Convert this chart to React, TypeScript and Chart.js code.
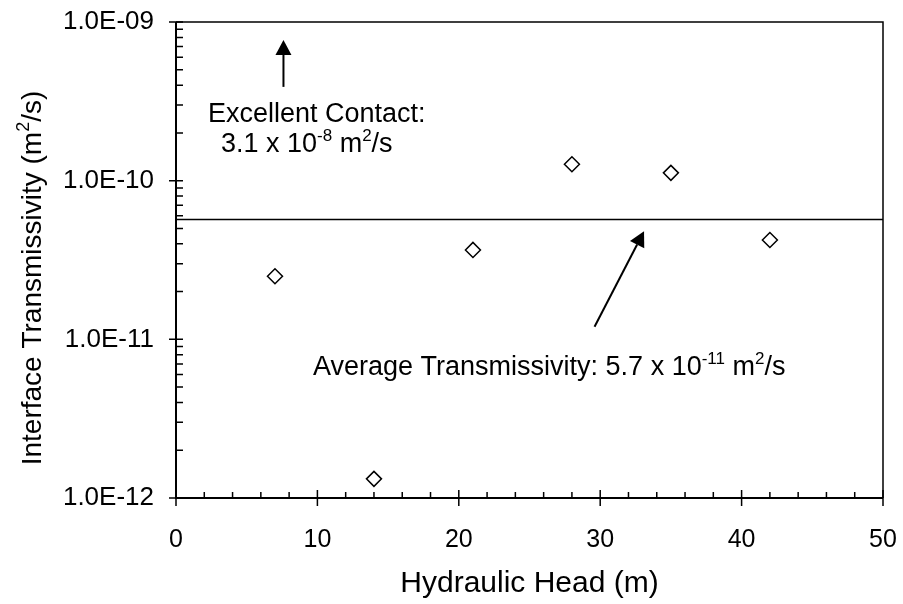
import React, { useEffect, useRef } from 'react';
import { Chart, registerables } from 'chart.js';

Chart.register(...registerables);

// ---- data ----
const heads = [7, 14, 21, 28, 35, 42];
const transmissivity = [2.5e-11, 1.32e-12, 3.66e-11, 1.27e-10, 1.12e-10, 4.23e-11];
const averageT = 5.7e-11;
const xRange = [0, 50];
const yRange = [1e-12, 1e-9];
const xMajorTicks = [0, 10, 20, 30, 40, 50];
const xMinorStep = 2;
const yMajorTicks = [1e-12, 1e-11, 1e-10, 1e-9];
const yTickLabels = ['1.0E-12', '1.0E-11', '1.0E-10', '1.0E-09'];
const xTitle = 'Hydraulic Head (m)';
const yTitleRuns: [string, boolean][] = [['Interface Transmissivity (m', false], ['2', true], ['/s)', false]];

// annotations (data coordinates)
const excellentArrow = { x: 7.6, yFrom: 3.9e-10, yTo: 7.7e-10 };
const averageArrow = { xFrom: 29.6, yFrom: 1.2e-11, xTo: 33.1, yTo: 4.8e-11 };
const excellentLine1 = { x: 2.26, y: 2.35e-10, runs: [['Excellent Contact:', false]] as [string, boolean][] };
const excellentLine2 = {
  x: 3.18,
  y: 1.52e-10,
  runs: [['3.1 x 10', false], ['-8', true], [' m', false], ['2', true], ['/s', false]] as [string, boolean][],
};
const averageText = {
  x: 9.69,
  y: 5.97e-12,
  runs: [['Average Transmissivity: 5.7 x 10', false], ['-11', true], [' m', false], ['2', true], ['/s', false]] as [string, boolean][],
};

const FONT = "'Liberation Sans', Arial, sans-serif";

function runsWidth(ctx: CanvasRenderingContext2D, runs: [string, boolean][], size: number, supSize: number) {
  let w = 0;
  for (const [t, sup] of runs) {
    ctx.font = `${sup ? supSize : size}px ${FONT}`;
    w += ctx.measureText(t).width;
  }
  return w;
}

function drawRuns(
  ctx: CanvasRenderingContext2D,
  runs: [string, boolean][],
  x: number,
  y: number,
  size = 27,
  supSize = 17,
  rise = 11
) {
  let cx = x;
  ctx.textAlign = 'left';
  ctx.textBaseline = 'alphabetic';
  ctx.fillStyle = '#000';
  for (const [t, sup] of runs) {
    ctx.font = `${sup ? supSize : size}px ${FONT}`;
    ctx.fillText(t, cx, sup ? y - rise : y);
    cx += ctx.measureText(t).width;
  }
}

function drawArrow(ctx: CanvasRenderingContext2D, x0: number, y0: number, x1: number, y1: number) {
  const ang = Math.atan2(y1 - y0, x1 - x0);
  const len = 15;
  const hw = 8;
  const bx = x1 - len * Math.cos(ang);
  const by = y1 - len * Math.sin(ang);
  ctx.strokeStyle = '#000';
  ctx.lineWidth = 2;
  ctx.beginPath();
  ctx.moveTo(x0, y0);
  ctx.lineTo(bx, by);
  ctx.stroke();
  ctx.fillStyle = '#000';
  ctx.beginPath();
  ctx.moveTo(x1, y1);
  ctx.lineTo(bx + hw * Math.sin(ang), by - hw * Math.cos(ang));
  ctx.lineTo(bx - hw * Math.sin(ang), by + hw * Math.cos(ang));
  ctx.closePath();
  ctx.fill();
}

const framePlugin = {
  id: 'frameAndAnnotations',
  afterDatasetsDraw(chart: any) {
    const ctx: CanvasRenderingContext2D = chart.ctx;
    const { left, right, top, bottom } = chart.chartArea;
    const xs = chart.scales.x;
    const ys = chart.scales.y;
    ctx.save();
    // frame
    ctx.strokeStyle = '#000';
    ctx.lineWidth = 1.5;
    ctx.beginPath();
    ctx.moveTo(left, top);
    ctx.lineTo(right, top);
    ctx.lineTo(right, bottom);
    ctx.stroke();
    ctx.lineWidth = 2;
    ctx.beginPath();
    ctx.moveTo(left, top);
    ctx.lineTo(left, bottom);
    ctx.lineTo(right, bottom);
    ctx.stroke();

    // x ticks
    ctx.lineWidth = 1.5;
    ctx.beginPath();
    for (let v = xRange[0]; v <= xRange[1] + 1e-9; v += xMinorStep) {
      const px = xs.getPixelForValue(v);
      if (xMajorTicks.includes(v)) {
        ctx.moveTo(px, bottom - 8);
        ctx.lineTo(px, bottom + 8);
      } else {
        ctx.moveTo(px, bottom - 6);
        ctx.lineTo(px, bottom);
      }
    }
    // y ticks
    for (let e = -12; e <= -9; e++) {
      const base = Math.pow(10, e);
      const py = ys.getPixelForValue(base);
      ctx.moveTo(left - 7, py);
      ctx.lineTo(left + 7, py);
      if (e < -9) {
        for (let m = 2; m <= 9; m++) {
          const pm = ys.getPixelForValue(m * base);
          ctx.moveTo(left, pm);
          ctx.lineTo(left + 7, pm);
        }
      }
    }
    ctx.stroke();

    // arrows
    drawArrow(
      ctx,
      xs.getPixelForValue(excellentArrow.x),
      ys.getPixelForValue(excellentArrow.yFrom),
      xs.getPixelForValue(excellentArrow.x),
      ys.getPixelForValue(excellentArrow.yTo)
    );
    drawArrow(
      ctx,
      xs.getPixelForValue(averageArrow.xFrom),
      ys.getPixelForValue(averageArrow.yFrom),
      xs.getPixelForValue(averageArrow.xTo),
      ys.getPixelForValue(averageArrow.yTo)
    );

    // texts
    for (const t of [excellentLine1, excellentLine2, averageText]) {
      drawRuns(ctx, t.runs, xs.getPixelForValue(t.x), ys.getPixelForValue(t.y));
    }

    // y-axis title (rotated)
    const tw = runsWidth(ctx, yTitleRuns, 28, 18);
    ctx.translate(41, (top + bottom) / 2 + 18);
    ctx.rotate(-Math.PI / 2);
    drawRuns(ctx, yTitleRuns, -tw / 2, 0, 28, 18, 12);
    ctx.restore();
  },
};

export default function App() {
  const ref = useRef<HTMLCanvasElement | null>(null);

  useEffect(() => {
    if (!ref.current) return;
    const chart = new Chart(ref.current, {
      type: 'scatter',
      data: {
        datasets: [
          {
            type: 'line',
            data: [
              { x: xRange[0], y: averageT },
              { x: xRange[1], y: averageT },
            ],
            borderColor: '#000',
            borderWidth: 1.5,
            pointRadius: 0,
            fill: false,
          } as any,
          {
            data: heads.map((h, i) => ({ x: h, y: transmissivity[i] })),
            pointStyle: 'rectRot',
            pointRadius: 7.5,
            pointBackgroundColor: '#fff',
            pointBorderColor: '#000',
            pointBorderWidth: 1.5,
            showLine: false,
          },
        ],
      },
      options: {
        animation: false,
        responsive: false,
        devicePixelRatio: 1,
        layout: { padding: { top: 22, right: 20, left: 0, bottom: 0 } },
        plugins: { legend: { display: false }, tooltip: { enabled: false } },
        scales: {
          x: {
            type: 'linear',
            min: xRange[0],
            max: xRange[1],
            grid: { display: false, drawTicks: false },
            border: { display: false },
            ticks: {
              stepSize: 10,
              padding: 27,
              color: '#000',
              font: { family: FONT, size: 25 },
              callback: (v: any) => (xMajorTicks.includes(Number(v)) ? String(v) : ''),
            },
            title: {
              display: true,
              text: xTitle,
              color: '#000',
              font: { family: FONT, size: 30 },
              padding: { top: 0, bottom: 2 },
            },
            afterFit: (s: any) => {
              s.height = 106;
              s.paddingLeft = 0;
              s.paddingRight = 0;
            },
          },
          y: {
            type: 'logarithmic',
            min: yRange[0],
            max: yRange[1],
            grid: { display: false, drawTicks: false },
            border: { display: false },
            ticks: {
              autoSkip: false,
              padding: 22,
              color: '#000',
              font: { family: FONT, size: 26 },
              callback: (v: any) => {
                const val = Number(v);
                for (let i = 0; i < yMajorTicks.length; i++) {
                  if (Math.abs(val - yMajorTicks[i]) / yMajorTicks[i] < 1e-6) return yTickLabels[i];
                }
                return '';
              },
            },
            title: { display: false },
            afterFit: (s: any) => {
              s.width = 176;
              s.paddingTop = 0;
              s.paddingBottom = 0;
            },
          },
        },
      },
      plugins: [framePlugin],
    });
    return () => chart.destroy();
  }, []);

  return (
    <div style={{ position: 'fixed', left: 0, top: 0, width: 903, height: 604, background: '#fff' }}>
      <canvas ref={ref} width={903} height={604} style={{ display: 'block' }} />
    </div>
  );
}
